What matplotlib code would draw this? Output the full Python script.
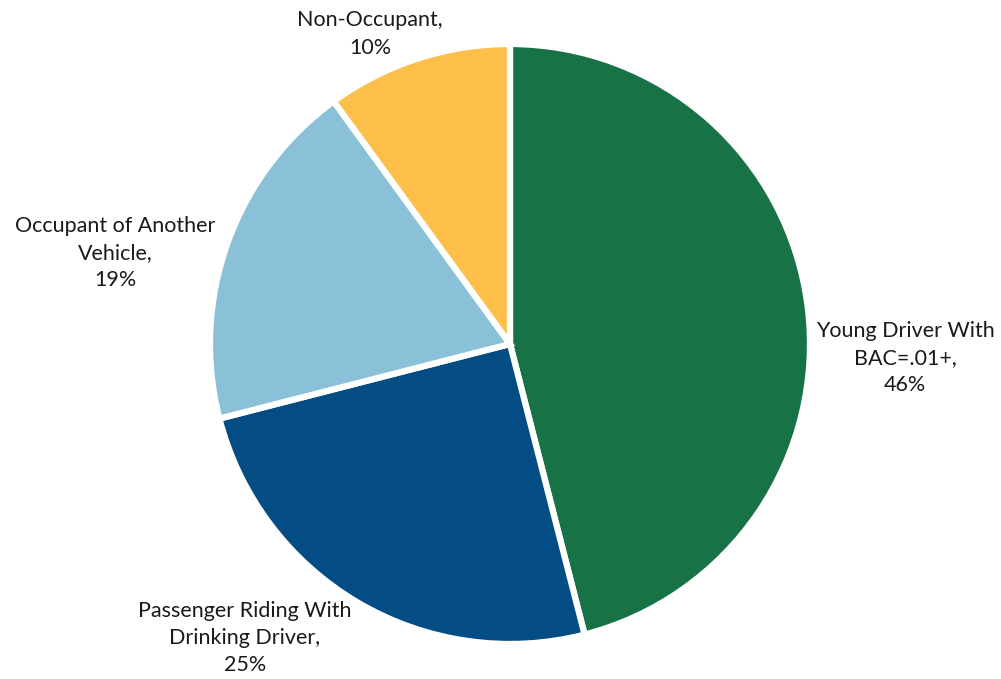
import matplotlib
matplotlib.use('Agg')
import matplotlib.pyplot as plt

# data
kategori = ['Young Driver With\nBAC=.01+', 'Passenger Riding With\nDrinking Driver',
            'Occupant of Another\nVehicle', 'Non-Occupant']
persen = [46, 25, 19, 10]
warna = ['#177245', '#034C84', '#8AC0D8', '#FBBF4A']

# posisi label (pixel di gambar asli)
posisi_label = [(905, 358), (245, 638), (115, 253), (370, 34)]

plt.rcParams['font.family'] = ['Lato', 'DejaVu Sans']

fig = plt.figure(figsize=(10.01, 6.79), dpi=100)
ax = fig.add_axes([0, 0, 1, 1])

cx, cy, r = 510, 344, 300  # pusat dan jari-jari pie dalam pixel
ax.pie(persen, colors=warna, startangle=90, counterclock=False,
       wedgeprops={'edgecolor': 'white', 'linewidth': 4.5}, radius=1)

for nama, p, (px, py) in zip(kategori, persen, posisi_label):
    ax.text((px - cx) / r, (cy - py) / r, f"{nama},\n{p}%", ha='center', va='center',
            fontsize=15.5, color='#1a1a1a', linespacing=1.45)

ax.set_xlim(-cx / r, (1001 - cx) / r)
ax.set_ylim(-(679 - cy) / r, cy / r)
ax.set_aspect('auto')
ax.axis('off')

fig.savefig('out.png', dpi=100)
